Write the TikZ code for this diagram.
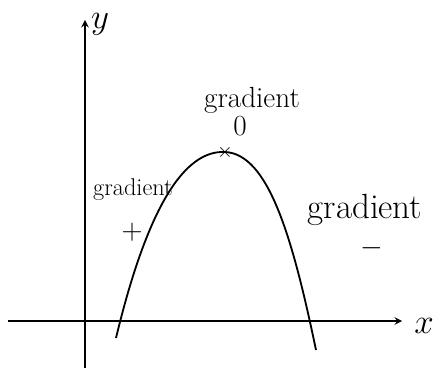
\documentclass[tikz,border=0pt]{standalone}
\usepackage{tikz}

\begin{document}
\begin{tikzpicture}[x=0.025cm,y=-0.025cm,>=stealth,line width=1.3pt]
        \useasboundingbox (0,0) rectangle (440,372);
        % axes
        \coordinate (xstart) at (8,321);
        \coordinate (xend) at (402,321);
        \coordinate (ystart) at (85,368);
        \coordinate (yend) at (85,20);
        \draw[->] (xstart) -- (xend);
        \draw[->] (ystart) -- (yend);
        \node (xlab) at (424,326) {\Huge $x$};
        \node (ylab) at (100,24) {\Huge $y$};
        % curve
        \coordinate (left) at (116,338);
        \coordinate (top) at (225,152);
        \coordinate (right) at (316,350);
        \draw (left) .. controls (148,205) and (185,150) .. (top)
              .. controls (268,154) and (292,235) .. (right);
        \node (peak) at (top) {\Large $\times$};
        % labels
        \node (gtop) at (252,100) {\huge gradient};
        \node (zero) at (240,126) {\huge 0};
        \node (gleft) at (133,190) {\LARGE gradient};
        \node (plus) at (132,232) {\huge +};
        \node (gright) at (365,210) {\Huge gradient};
        \node (minus) at (372,248) {\huge $-$};
    \end{tikzpicture}
\end{document}
